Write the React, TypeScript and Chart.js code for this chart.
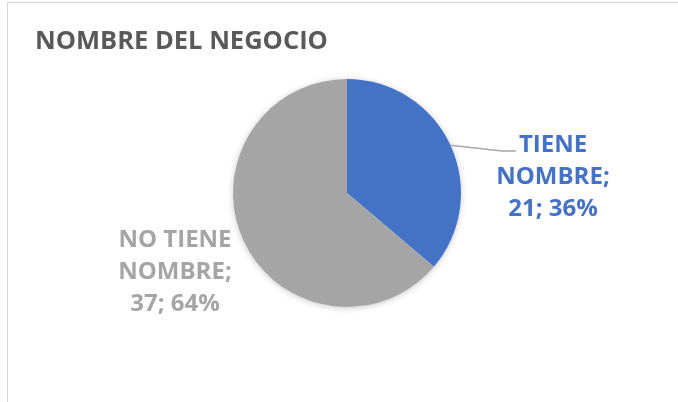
import { useEffect, useRef } from "react";
import { Chart, registerables } from "chart.js";

Chart.register(...registerables);

// ---- data ----
const TITLE = "NOMBRE DEL NEGOCIO";
const categories = ["TIENE NOMBRE", "NO TIENE NOMBRE"];
const values = [21, 37];
const colors = ["#4472C4", "#A5A5A5"];

// ---- styling / layout constants ----
const FONT = '"Open Sans", "DejaVu Sans", sans-serif';
const TITLE_COLOR = "#595959";
const LEADER_COLOR = "#A6A6A6";
// label anchor offsets relative to pie center (x = text center, y = first baseline)
const LABEL_OFFSETS = [
  { dx: 206, dy: -41 },
  { dx: -172, dy: 54 },
];
const LINE_HEIGHT = 32;

function wrapLabel(cat: string, value: number, total: number): string[] {
  const words = cat.split(" ");
  const last = words.pop() as string;
  const pct = Math.round((value / total) * 100);
  return [words.join(" "), last + ";", `${value}; ${pct}%`];
}

const decorPlugin = {
  id: "decor",
  beforeDatasetsDraw(chart: any) {
    const meta = chart.getDatasetMeta(0);
    const arc = meta.data[0];
    if (!arc) return;
    const { x, y, outerRadius } = arc.getProps(["x", "y", "outerRadius"], true);
    const ctx = chart.ctx;
    ctx.save();
    ctx.shadowColor = "rgba(0,0,0,0.22)";
    ctx.shadowBlur = 6;
    ctx.shadowOffsetY = 1;
    ctx.beginPath();
    ctx.arc(x, y, outerRadius, 0, Math.PI * 2);
    ctx.fillStyle = "#ffffff";
    ctx.fill();
    ctx.restore();
  },
  afterDatasetsDraw(chart: any) {
    const ctx = chart.ctx;
    const meta = chart.getDatasetMeta(0);
    const total = values.reduce((a, b) => a + b, 0);

    // title
    ctx.save();
    ctx.font = `bold 25.5px ${FONT}`;
    ctx.fillStyle = TITLE_COLOR;
    ctx.textAlign = "left";
    ctx.textBaseline = "alphabetic";
    ctx.fillText(TITLE, 35, 49);
    ctx.restore();

    meta.data.forEach((arc: any, i: number) => {
      const { x, y, startAngle, endAngle, outerRadius } = arc.getProps(
        ["x", "y", "startAngle", "endAngle", "outerRadius"],
        true
      );
      const off = LABEL_OFFSETS[i];
      const lx = x + off.dx;
      const ly = y + off.dy;
      const lines = wrapLabel(categories[i], values[i], total);

      ctx.save();
      ctx.font = `bold 24px ${FONT}`;
      ctx.fillStyle = colors[i];
      ctx.textAlign = "center";
      ctx.textBaseline = "alphabetic";
      lines.forEach((t, k) => ctx.fillText(t, lx, ly + k * LINE_HEIGHT));
      const firstW = ctx.measureText(lines[0]).width;
      ctx.restore();

      if (i === 0) {
        const mid = (startAngle + endAngle) / 2;
        const p0x = x + Math.cos(mid) * outerRadius;
        const p0y = y + Math.sin(mid) * outerRadius;
        const endX = lx - firstW / 2 - 3;
        const midY = ly - 1;
        ctx.save();
        ctx.strokeStyle = LEADER_COLOR;
        ctx.lineWidth = 1.5;
        ctx.beginPath();
        ctx.moveTo(p0x, p0y);
        ctx.lineTo(endX - 14, midY);
        ctx.lineTo(endX, midY);
        ctx.stroke();
        ctx.restore();
      }
    });
  },
};

export default function App() {
  const ref = useRef<HTMLCanvasElement | null>(null);

  useEffect(() => {
    let chart: Chart | null = null;
    let cancelled = false;
    const make = () => {
      if (cancelled || !ref.current) return;
      chart = new Chart(ref.current, {
        type: "pie",
        data: {
          labels: categories,
          datasets: [
            {
              data: values,
              backgroundColor: colors,
              borderWidth: 0,
            },
          ],
        },
        options: {
          responsive: false,
          animation: false,
          layout: { padding: { left: 233, right: 217, top: 79, bottom: 95 } },
          plugins: {
            legend: { display: false },
            tooltip: { enabled: false },
            title: { display: false },
          },
        },
        plugins: [decorPlugin],
      });
    };
    const fonts: any = (document as any).fonts;
    if (fonts && fonts.load) {
      Promise.all([
        fonts.load(`bold 24px "Open Sans"`),
        fonts.load(`bold 25.5px "Open Sans"`),
      ])
        .catch(() => null)
        .then(make);
    } else {
      make();
    }
    return () => {
      cancelled = true;
      if (chart) chart.destroy();
    };
  }, []);

  return (
    <div
      style={{
        position: "fixed",
        left: 0,
        top: 0,
        width: 678,
        height: 402,
        overflow: "hidden",
        background: "#ffffff",
      }}
    >
      <div
        style={{
          position: "absolute",
          left: 7,
          top: 2,
          width: 720,
          height: 450,
          border: "1px solid #D6D6D6",
        }}
      />
      <canvas
        ref={ref}
        width={678}
        height={402}
        style={{ position: "absolute", left: 0, top: 0, width: 678, height: 402 }}
      />
    </div>
  );
}
